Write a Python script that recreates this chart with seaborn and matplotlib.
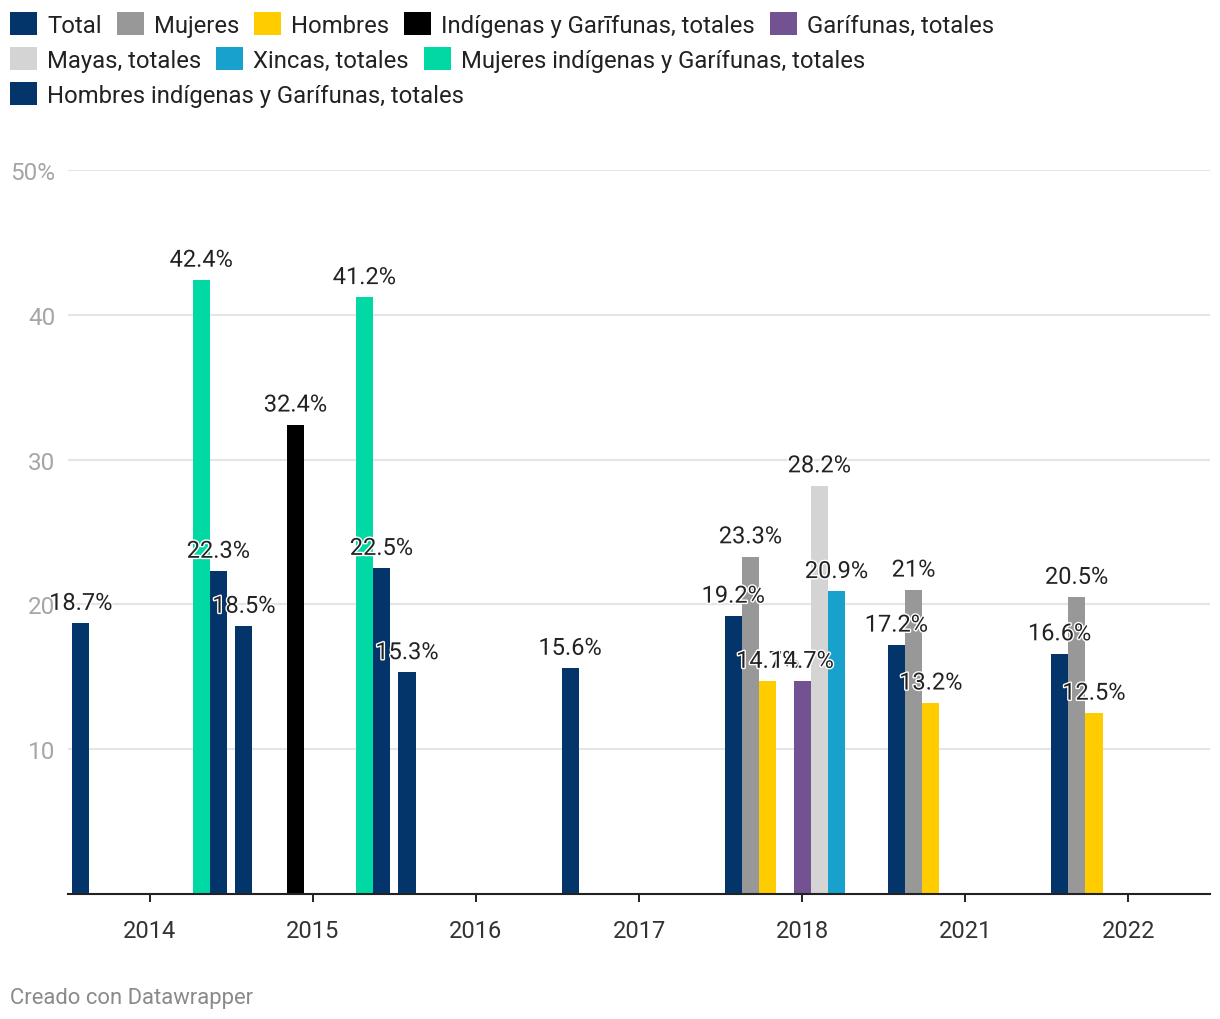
import numpy as np
import pandas as pd
import matplotlib.pyplot as plt
import matplotlib.patches as mpatches
import matplotlib.patheffects as pe
import seaborn as sns

# -------- Data --------
years = ["2014", "2015", "2016", "2017", "2018", "2021", "2022"]

series = [
    "Total",
    "Mujeres",
    "Hombres",
    "Indígenas y Garīfunas, totales",
    "Garífunas, totales",
    "Mayas, totales",
    "Xincas, totales",
    "Mujeres indígenas y Garífunas, totales",
    "Hombres indígenas y Garífunas, totales",
]
colors = ["#04356a", "#989898", "#ffcc00", "#000000", "#735292",
          "#d4d4d4", "#18a1cd", "#00d9a3", "#04356a"]

nan = np.nan
total = [18.7, 18.5, 15.3, 15.6, 19.2, 17.2, 16.6]
mujeres = [nan, nan, nan, nan, 23.3, 21.0, 20.5]
hombres = [nan, nan, nan, nan, 14.7, 13.2, 12.5]
indigenas = [nan, 32.4, nan, nan, nan, nan, nan]
garifunas = [nan, nan, nan, nan, 14.7, nan, nan]
mayas = [nan, nan, nan, nan, 28.2, nan, nan]
xincas = [nan, nan, nan, nan, 20.9, nan, nan]
mujeres_ind = [42.4, 41.2, nan, nan, nan, nan, nan]
hombres_ind = [22.3, 22.5, nan, nan, nan, nan, nan]

values = [total, mujeres, hombres, indigenas, garifunas, mayas, xincas,
          mujeres_ind, hombres_ind]

rows = []
for name, vals in zip(series, values):
    for y, v in zip(years, vals):
        rows.append({"year": y, "serie": name, "value": v})
df = pd.DataFrame(rows).dropna(subset=["value"])

# -------- Style --------
sns.set_theme(style="white")
plt.rcParams["font.family"] = ["Roboto", "DejaVu Sans"]

W, H = 1220, 1020
fig = plt.figure(figsize=(W / 100, H / 100), dpi=100)
ax = fig.add_axes([68 / W, 1 - 895 / H, (1210 - 68) / W, (895 - 171) / H])

sns.barplot(data=df, x="year", y="value", hue="serie", order=years,
            hue_order=series, palette=dict(zip(series, colors)),
            width=0.95, saturation=1, errorbar=None, linewidth=0,
            legend=False, ax=ax)

# value labels
for cont in ax.containers:
    labels = [f"{b.get_height():g}%" for b in cont]
    txts = ax.bar_label(cont, labels=labels, padding=6, fontsize=17,
                        color="#222222")
    for t in txts:
        t.set_path_effects([pe.withStroke(linewidth=2, foreground="white")])

# -------- Axes --------
ax.set_ylim(0, 50)
ax.set_yticks([10, 20, 30, 40, 50])
ax.set_yticklabels(["10", "20", "30", "40", "50%"])
ax.yaxis.grid(True, color="#e5e5e5", linewidth=1.5)
ax.set_axisbelow(True)
ax.tick_params(axis="y", length=0, pad=9, labelsize=17.5, labelcolor="#a6a6a6")
ax.tick_params(axis="x", length=6, width=1.4, color="#222222", pad=12,
               labelsize=17, labelcolor="#333333", bottom=True)
ax.set_xlabel("")
ax.set_ylabel("")
for s in ["left", "top", "right"]:
    ax.spines[s].set_visible(False)
ax.spines["bottom"].set_color("#222222")
ax.spines["bottom"].set_linewidth(1.5)

# -------- Legend (flow rows) --------
legend_rows = [[0, 1, 2, 3, 4], [5, 6, 7], [8]]
row_tops = [13, 48, 83]
for idx, top in zip(legend_rows, row_tops):
    handles = [mpatches.Patch(facecolor=colors[i], edgecolor="none") for i in idx]
    labs = [series[i] for i in idx]
    leg = fig.legend(handles, labs, loc="upper left",
                     bbox_to_anchor=(10 / W, 1 - top / H), ncol=len(idx),
                     frameon=False, fontsize=17.2, handlelength=1.13,
                     handleheight=1.13, handletextpad=0.42, columnspacing=0.63,
                     borderpad=0, borderaxespad=0)
    for t in leg.get_texts():
        t.set_color("#222222")

fig.text(10 / W, 1 - 999 / H, "Creado con Datawrapper", va="center",
         ha="left", fontsize=15.8, color="#8a8a8a")

fig.savefig("out.png", dpi=100)
